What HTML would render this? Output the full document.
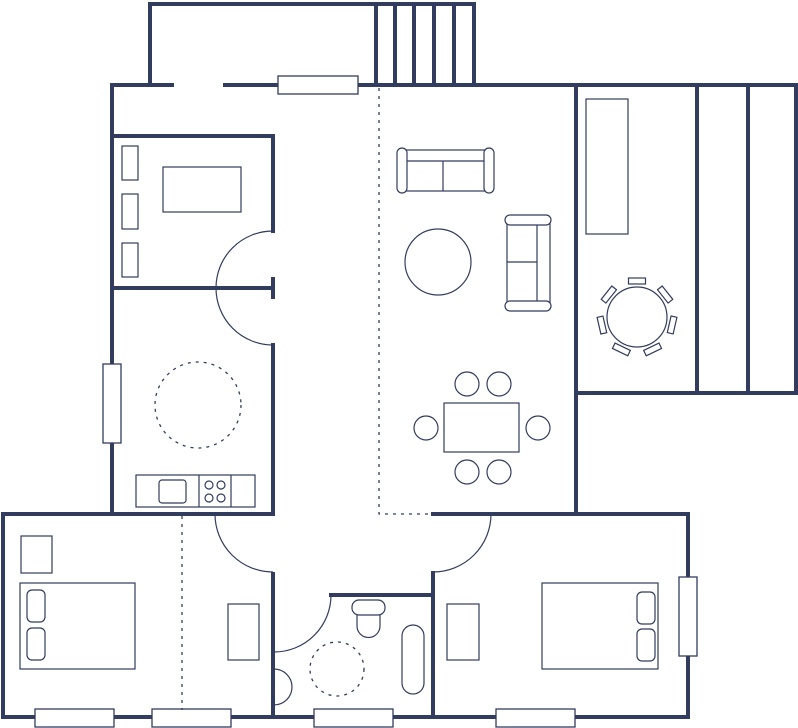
<!DOCTYPE html>
<html><head><meta charset="utf-8"><style>html,body{margin:0;padding:0;background:#fff}svg{display:block}</style></head>
<body>
<svg width="798" height="728" viewBox="0 0 798 728" xmlns="http://www.w3.org/2000/svg">
<g fill="none" stroke="#323c5e" stroke-width="4" stroke-linecap="square">
<!-- balcony -->
<path d="M150 85V4H474V85"/>
<path d="M376 4V85M395 4V85M414 4V85M434 4V85M454 4V85"/>
<!-- top wall -->
<path d="M112 514V85H172"/>
<path d="M225 85H796"/>
<!-- room 1 -->
<path d="M112 136H273V231"/>
<path d="M112 288H273"/>
<path d="M273 279V297"/>
<path d="M273 345V514"/>
<!-- kitchen bottom / left bedroom -->
<path d="M3 514H273"/>
<path d="M3 514V717H688V514H433"/>
<path d="M273 574V717"/>
<path d="M331 595H433"/>
<path d="M433 573V717"/>
<!-- right part -->
<path d="M576 85V514"/>
<path d="M576 393H796V85"/>
<path d="M697 85V393M748 85V393"/>
</g>
<!-- windows -->
<g fill="#fff" stroke="#323c5e" stroke-width="1.3">
<rect x="278" y="76" width="80" height="18"/>
<rect x="103" y="364" width="18" height="79"/>
<rect x="679" y="577" width="18" height="79"/>
<rect x="35" y="709" width="79" height="18"/>
<rect x="152" y="709" width="79" height="18"/>
<rect x="314" y="709" width="79" height="18"/>
<rect x="496" y="709" width="79" height="18"/>
</g>
<!-- dotted lines -->
<g fill="none" stroke="#323c5e" stroke-width="1.3" stroke-dasharray="3 5">
<path d="M379 88V514H433"/>
<path d="M182 516V710"/>
<circle cx="198" cy="405" r="43"/>
<circle cx="337" cy="669" r="27"/>
</g>
<!-- furniture -->
<g fill="none" stroke="#323c5e" stroke-width="1.2">
<path d="M273 231A57 57 0 0 0 273 345"/>
<path d="M215 514A58 58 0 0 0 273 572"/>
<path d="M331 595A57 57 0 0 1 274 652"/>
<path d="M274 669A18 18 0 0 1 274 705"/>
<path d="M491 514A58 58 0 0 1 433 572"/>
<rect x="122" y="146" width="16" height="34"/>
<rect x="122" y="194" width="16" height="35"/>
<rect x="122" y="243" width="16" height="34"/>
<rect x="163" y="167" width="78" height="45"/>
<rect x="136" y="475" width="119" height="32"/>
<path d="M199 475V507M231 475V507"/>
<rect x="159" y="480" width="27" height="23" rx="3"/>
<circle cx="209" cy="485" r="4"/><circle cx="221" cy="485" r="4"/>
<circle cx="209" cy="498" r="4"/><circle cx="221" cy="498" r="4"/>
<rect x="21" y="536" width="31" height="37"/>
<rect x="20" y="583" width="115" height="86"/>
<rect x="27" y="590" width="18" height="32" rx="5"/>
<rect x="27" y="628" width="18" height="32" rx="5"/>
<rect x="228" y="604" width="31" height="56"/>
<rect x="352" y="600" width="33" height="15" rx="7"/>
<path d="M357 615V626A11.5 11.5 0 0 0 380 626V615"/>
<rect x="402" y="625" width="22" height="69" rx="11"/>
<rect x="447" y="604" width="32" height="56"/>
<rect x="542" y="583" width="116" height="86"/>
<rect x="637" y="592" width="18" height="32" rx="5"/>
<rect x="637" y="629" width="18" height="32" rx="5"/>
<rect x="586" y="99" width="42" height="135"/>
<circle cx="637" cy="317" r="30"/>
<g transform="translate(637 317)">
<rect x="-8.5" y="-39" width="17" height="6" transform="rotate(0)"/>
<rect x="-8.5" y="-39" width="17" height="6" transform="rotate(51.4)"/>
<rect x="-8.5" y="-39" width="17" height="6" transform="rotate(102.8)"/>
<rect x="-8.5" y="-39" width="17" height="6" transform="rotate(154.3)"/>
<rect x="-8.5" y="-39" width="17" height="6" transform="rotate(205.7)"/>
<rect x="-8.5" y="-39" width="17" height="6" transform="rotate(257.1)"/>
<rect x="-8.5" y="-39" width="17" height="6" transform="rotate(308.6)"/>
</g>
<rect x="404" y="150" width="84" height="41"/>
<path d="M404 161H488M443 161V191"/>
<rect x="397" y="148" width="10" height="45" rx="5" fill="#fff"/>
<rect x="484" y="148" width="10" height="45" rx="5" fill="#fff"/>
<rect x="507" y="218" width="43" height="88"/>
<path d="M537 218V306M507 262H537"/>
<rect x="505" y="215" width="46" height="10" rx="5" fill="#fff"/>
<rect x="505" y="301" width="46" height="10" rx="5" fill="#fff"/>
<circle cx="438" cy="262" r="33"/>
<rect x="444" y="403" width="75" height="49"/>
<circle cx="467" cy="384" r="12"/><circle cx="499" cy="384" r="12"/>
<circle cx="426" cy="428" r="12"/><circle cx="538" cy="428" r="12"/>
<circle cx="467" cy="472" r="12"/><circle cx="499" cy="472" r="12"/>
</g>
</svg>
</body></html>
